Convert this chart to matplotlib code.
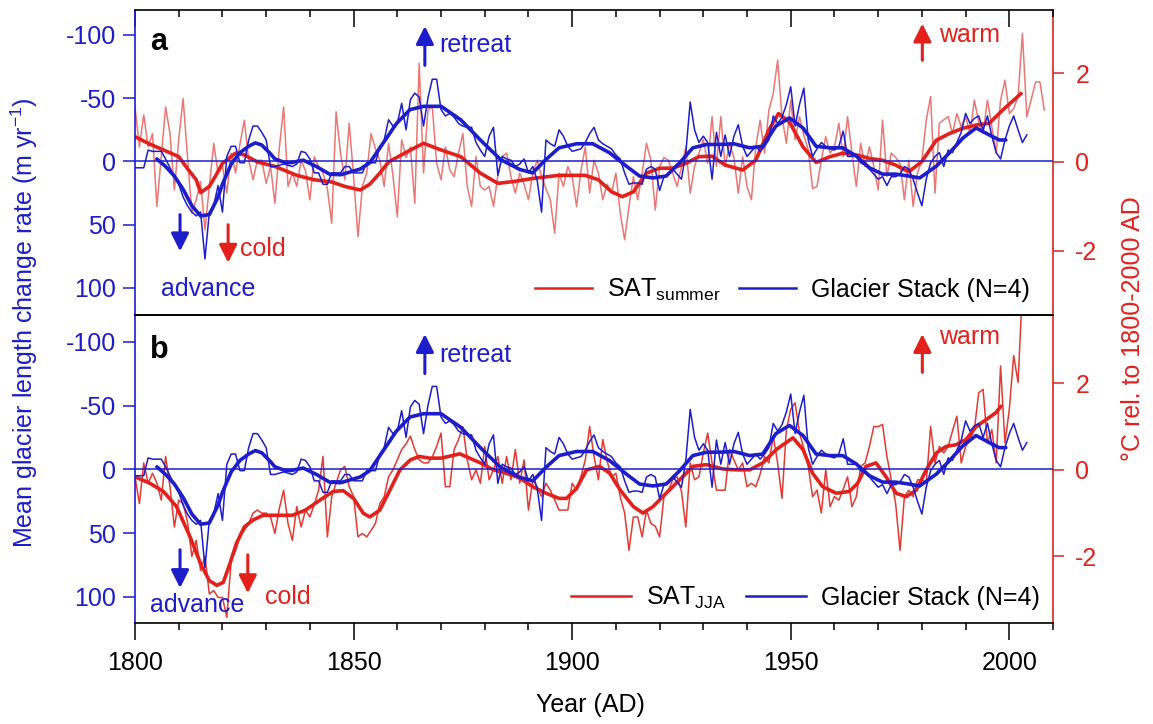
import matplotlib.pyplot as plt
import numpy as np
from matplotlib.lines import Line2D

plt.rcParams['font.family'] = ['Liberation Sans', 'DejaVu Sans']
plt.rcParams['mathtext.fontset'] = 'custom'
plt.rcParams['mathtext.rm'] = 'Liberation Sans'
plt.rcParams['mathtext.it'] = 'Liberation Sans:italic'

BLUE = '#1d1dcc'
RED = '#e2211c'

# glacier stack, annual length change rate (m/yr), 1800-2004
glacier_years = np.arange(1800, 2005)
glacier = [5, 5, 5, -9, -8, -8, -8, -2, 5, 12,
           18, 28, 35, 40, 43, 40, 77, 40, 35, 19,
           40, -4, -12, -12, 1, 1, -17, -28, -28, -23,
           -17, 4, 4, 3, 2, 3, 4, 2, -8, -7,
           -2, 9, 9, 18, 18, 9, 9, 9, 4, 4,
           9, 9, 9, 1, 1, 1, -12, -17, -33, -28,
           -30, -46, -25, -49, -54, -51, -28, -50, -65, -65,
           -41, -36, -38, -35, -30, -28, -27, -27, -15, -9,
           -4, -20, -27, 11, -4, -2, -1, 4, 2, -2,
           9, 4, 15, 40, -17, -14, -12, -25, -20, -12,
           -8, -9, -10, -15, -22, -27, -17, -14, -12, -10,
           -5, -2, 9, 18, 17, 17, 18, 6, 4, 6,
           23, 12, 10, 6, 10, 14, -7, -47, -25, -15,
           -20, -15, 14, -23, -4, -21, -4, -20, -29, -12,
           -4, -8, -12, -8, -12, -17, -36, -30, -35, -45,
           -59, -28, -45, -58, -17, -4, -10, -15, -12, -10,
           -9, -12, -24, -4, -4, -4, 1, 3, 6, 10,
           14, 12, 19, 12, 12, 10, 4, 6, 14, 25,
           35, 14, 1, -4, -7, 4, -9, -7, -15, -23,
           -38, -30, -34, -36, -25, -36, -20, -7, -2, -17,
           -28, -36, -25, -15, -21]

# smoothed glacier stack
glacier_smooth_years = [1805, 1807, 1809, 1811, 1813, 1815, 1817, 1819, 1820, 1822,
                        1824, 1826, 1827.5, 1829, 1831, 1832, 1834, 1835.5, 1838.5, 1841.5,
                        1844.5, 1847, 1848.5, 1851.5, 1853.7, 1856.8, 1859.8, 1862.9, 1866, 1870,
                        1874.5, 1879, 1883.6, 1888, 1891, 1894, 1897, 1901, 1904.7, 1908.5,
                        1912.4, 1915.4, 1918.5, 1921.5, 1924.6, 1927.6, 1930.7, 1934, 1937, 1940.6,
                        1943.6, 1946.6, 1949.7, 1952.8, 1955.8, 1958.9, 1961.9, 1965, 1968, 1971,
                        1974, 1977, 1979.5, 1983.3, 1986.3, 1989.4, 1992.4, 1995.4, 1997.7, 1999.2]
glacier_smooth = [-2, 4, 11.5, 22, 35, 43, 42, 28, 18, 2,
                  -7, -12, -14.7, -13, -6, -2, 0.5, 1, -1, 4,
                  10, 10.5, 9, 6, 1, -14.7, -30, -41, -43.6, -43.6,
                  -33, -17, -1.6, 6.3, 9, -1.6, -10.8, -14, -14, -7,
                  3.7, 11.5, 13, 11.5, 1, -10.8, -13.4, -13.5, -14, -10.8,
                  -12, -28, -34.4, -26.5, -12, -10.8, -10.8, -4.2, 5, 10,
                  10, 11.5, 13, 3.7, -6.8, -18.6, -26.5, -21, -17, -17]

# panel a: summer SAT anomaly (deg C), annual 1800-2008
sat_summer_years = np.arange(1800, 2009)
sat_summer = [1.24, 0.34, 1.06, 0.34, 0.64, -1.0, 0.12, 1.24, 0.64, -0.63,
              0.5, 1.43, 0.12, -1.15, -0.85, -0.44, -1.53, -0.55, 0.42, -0.25,
              -0.1, -0.7, 0.2, -0.25, 0.4, 0.94, 0.04, -0.4, 0.04, 0.04,
              -0.48, -0.1, -0.93, 0.3, 1.24, -0.55, -0.25, -0.55, 0.04, -0.2,
              -0.85, 0.12, -0.1, -0.25, -0.6, -1.38, 1.13, 0.2, -0.4, 0.87,
              -0.33, -1.68, -0.55, -0.25, 0.64, 0.3, 0.04, -0.55, 0.42, -0.3,
              -1.23, 0.5, 0.1, 0.34, -0.93, 2.22, -0.25, 1.17, 1.24, -0.03,
              -0.4, 0.34, -0.18, -0.33, 0.2, 0.64, -0.55, -1.0, 0.12, -0.55,
              -0.63, -0.55, -1.0, -0.3, 0.12, 0.2, -0.33, -0.7, -0.25, -0.5,
              -0.85, -0.25, 0.04, -0.33, -0.6, -0.85, -1.6, -0.25, -0.55, -0.1,
              -0.33, -1.0, -0.2, 0.34, -0.7, 0.04, -0.25, -0.85, -0.5, -0.7,
              -0.25, -1.15, -1.75, -1.0, -0.33, -0.85, -0.25, 0.42, 0.04, -1.08,
              -0.1, 0.1, 0.04, -0.25, -0.55, -0.1, 0.34, -0.7, -0.1, 0.2,
              0.5, -0.03, 1.02, -0.1, 1.02, -0.1, 0.42, 0.1, -0.7, 0.12,
              -0.55, -0.85, 0.34, 0.94, 0.2, 1.17, 1.54, 2.29, 1.02, 0.42,
              1.39, 0.5, 1.02, 0.6, 0.27, -0.6, -0.55, 0.04, 0.57, 0.2,
              0.34, 0.87, 0.12, 1.02, 0.2, -0.55, 0.42, -0.1, 0.34, -0.1,
              -0.63, 0.94, -0.33, 0.2, 0.1, -0.03, -0.85, 0.04, -1.0, -0.25,
              0.04, 0.94, 1.47, -0.7, 0.87, 0.95, 1.02, 0.64, 1.09, 0.79,
              1.02, 0.64, 1.39, 0.9, 0.64, 1.39, 0.79, 0.2, 1.39, 1.84,
              1.09, 1.2, 1.47, 2.89, 1.02, 1.4, 1.8, 1.8, 1.17]

sat_summer_smooth_years = [1800, 1803, 1806.5, 1810, 1812, 1814, 1815, 1817, 1818.5, 1820,
                           1823, 1825, 1828, 1832, 1837, 1841, 1845, 1848, 1851.5, 1853.7,
                           1856, 1858, 1863, 1866, 1870, 1874.5, 1879, 1883, 1886.6, 1891,
                           1897, 1903, 1906, 1909, 1911.5, 1914, 1917, 1920, 1923, 1926,
                           1929, 1932, 1935, 1939, 1942, 1945, 1947.2, 1949.7, 1952.8, 1955.8,
                           1959, 1962, 1965, 1968, 1971, 1974, 1977, 1980, 1983.3, 1986.3,
                           1989.4, 1992.4, 1995.4, 1998.5, 2002.7]
sat_summer_smooth = [0.57, 0.42, 0.27, 0.12, -0.15, -0.4, -0.69, -0.55, -0.3, -0.03,
                     0.2, 0.16, 0.0, -0.1, -0.3, -0.4, -0.45, -0.55, -0.63, -0.5,
                     -0.25, 0.0, 0.27, 0.42, 0.27, 0.12, -0.25, -0.48, -0.44, -0.37,
                     -0.3, -0.3, -0.4, -0.67, -0.78, -0.67, -0.25, -0.14, -0.14, -0.03,
                     0.12, 0.13, -0.07, -0.18, 0.04, 0.72, 1.09, 0.9, 0.34, -0.01,
                     0.12, 0.2, 0.16, 0.08, 0.04, -0.07, -0.22, 0.01, 0.49, 0.64,
                     0.76, 0.83, 0.87, 1.17, 1.54]

# panel b: JJA SAT anomaly (deg C), annual 1800-2003
sat_jja_years = np.arange(1800, 2004)
sat_jja = [-0.16, -0.78, 0.16, -0.31, -0.08, -0.3, -0.7, 0.31, -0.39, -1.32,
           -0.7, -0.78, -1.2, -2.0, -1.63, -2.33, -2.0, -2.87, -2.79, -2.95,
           -2.95, -3.41, -2.09, -1.86, -1.55, -1.4, -1.24, -1.0, -0.93, -1.0,
           -1.0, -1.09, -1.47, -0.9, -0.47, -1.24, -1.63, -0.85, -1.32, -0.93,
           -1.09, -0.8, -0.47, 0.31, -1.55, -0.62, -0.31, 0.0, 0.08, -0.39,
           -0.62, -1.55, -1.47, -1.55, -1.4, -1.24, -0.78, -0.62, -0.16, 0.0,
           0.23, 0.47, 0.6, 0.78, 0.47, 0.23, 0.16, 0.16, 0.3, 0.54,
           0.85, -0.39, -0.39, 0.47, 0.7, 1.0, 0.23, -0.23, 0.0, -0.31,
           0.54, -0.23, 0.0, 0.31, -0.31, 0.31, -0.23, 0.47, -0.31, 0.23,
           -0.93, -0.23, -0.4, -0.62, -0.31, -0.47, -0.7, -0.93, -0.93, -0.93,
           -0.31, -0.47, -0.16, 0.23, 1.0, 0.31, -0.23, 0.7, 0.2, -0.16,
           -0.08, -0.62, -1.0, -1.86, -1.09, -1.09, -1.55, -0.93, -1.24, -1.3,
           -1.55, -0.62, -0.47, -0.23, -0.16, -0.5, -1.32, 0.16, -0.23, -0.16,
           0.39, 0.85, 0.16, -0.47, -0.47, -0.47, 0.47, 0.23, 0.0, 0.16,
           -0.39, -0.31, -0.39, -0.1, 0.31, 0.16, 0.78, 0.16, -0.66, 0.93,
           1.4, 1.55, 0.85, 0.5, 0.08, -0.62, -0.47, -1.0, 0.0, -0.85,
           -0.62, -0.7, -0.45, -0.16, -0.85, -0.62, 0.08, 0.16, 0.54, 1.0,
           1.0, 1.05, 0.31, -0.23, -0.78, -1.86, -0.62, -0.47, -0.62, -0.23,
           -0.23, -0.31, 1.0, 0.16, 0.54, 0.39, 0.54, 0.9, 1.24, 0.16,
           0.54, 0.7, 0.93, 1.78, 1.86, 0.62, 0.93, 0.16, 2.4, 0.62,
           1.4, 2.64, 2.02, 4.2]

sat_jja_smooth_years = [1800, 1803.4, 1806.5, 1809.5, 1812.6, 1815, 1817, 1818.7, 1820.2, 1821.7,
                        1823.2, 1825, 1827, 1829.3, 1833, 1836, 1839, 1842.3, 1845.3, 1847.6,
                        1850, 1852.2, 1853.7, 1856, 1858.3, 1860.6, 1863, 1865, 1867.4, 1870,
                        1874.3, 1879, 1882, 1885, 1888, 1891, 1894, 1897, 1898.7, 1901,
                        1903.3, 1906.3, 1908.6, 1911, 1914, 1916.2, 1918.5, 1921.5, 1924.6, 1927.6,
                        1930.7, 1934.5, 1937.5, 1940.6, 1943.6, 1946.7, 1950.5, 1952.8, 1955, 1957.3,
                        1960.4, 1963.4, 1965.3, 1967.2, 1969.5, 1971.8, 1974.1, 1976.4, 1978.7, 1981,
                        1983.3, 1985.5, 1987.8, 1990.1, 1992.4, 1994.7, 1996.9, 1998.1]
sat_jja_smooth = [-0.16, -0.31, -0.5, -0.85, -1.55, -2.17, -2.56, -2.67, -2.6, -2.17,
                  -1.7, -1.32, -1.16, -1.05, -1.05, -1.05, -0.93, -0.7, -0.5, -0.48,
                  -0.66, -1.0, -1.09, -0.93, -0.47, 0.0, 0.23, 0.31, 0.27, 0.27,
                  0.37, 0.16, 0.0, -0.08, -0.19, -0.39, -0.54, -0.66, -0.66, -0.43,
                  0.0, 0.08, -0.08, -0.47, -0.85, -1.0, -0.85, -0.54, -0.23, 0.08,
                  0.12, 0.02, 0.0, 0.0, 0.16, 0.47, 0.74, 0.47, -0.08, -0.39,
                  -0.54, -0.5, -0.31, 0.08, 0.16, -0.16, -0.54, -0.62, -0.47, 0.0,
                  0.39, 0.54, 0.58, 0.7, 1.0, 1.16, 1.32, 1.47]


def draw_panel(ax, sat_x, sat_y, sat_sx, sat_sy, thin_color, t_lim, g_lim):
    tw = ax.twinx()
    ax.set_zorder(tw.get_zorder() + 1)
    ax.patch.set_visible(False)

    ax.axhline(0, color=BLUE, lw=1.1)
    ax.plot(glacier_years, glacier, color=BLUE, lw=1.1)
    ax.plot(glacier_smooth_years, glacier_smooth, color=BLUE, lw=2.6,
            solid_capstyle='round', solid_joinstyle='round')
    tw.plot(sat_x, sat_y, color=thin_color, lw=1.1)
    tw.plot(sat_sx, sat_sy, color=RED, lw=2.6,
            solid_capstyle='round', solid_joinstyle='round')

    ax.set_xlim(1800, 2010)
    ax.set_ylim(g_lim)
    ax.set_yticks([-100, -50, 0, 50, 100])
    ax.set_yticklabels(['-100', '-50', '0', '50', '100'])
    tw.set_ylim(t_lim)
    tw.set_yticks([-2, 0, 2])
    tw.set_yticklabels(['-2', '0', '2'])

    ax.tick_params(axis='y', colors=BLUE, labelsize=18, length=8.5, width=1.1,
                   direction='out', pad=5)
    tw.tick_params(axis='y', colors=RED, labelsize=18, length=8, width=1.1,
                   direction='out', pad=8)
    for s in ['top', 'bottom']:
        ax.spines[s].set_color('black')
        tw.spines[s].set_visible(False)
    ax.spines['left'].set_color(BLUE)
    ax.spines['right'].set_visible(False)
    tw.spines['right'].set_color(RED)
    tw.spines['left'].set_visible(False)
    for s in ax.spines.values():
        s.set_linewidth(1.2)
    tw.spines['right'].set_linewidth(1.2)

    handles = [Line2D([], [], color=RED, lw=1.8), Line2D([], [], color=BLUE, lw=1.8)]
    return tw, handles


fig = plt.figure(figsize=(11.53, 7.24), dpi=100)
ax_a = fig.add_axes([0.1171, 0.565, 0.7962, 0.4213])
ax_b = fig.add_axes([0.1171, 0.1395, 0.7962, 0.4255])

tw_a, h_a = draw_panel(ax_a, sat_summer_years, sat_summer, sat_summer_smooth_years, sat_summer_smooth,
                       '#ea7773', (-3.44, 3.42), (121.3, -119.8))
tw_b, h_b = draw_panel(ax_b, sat_jja_years, sat_jja, sat_jja_smooth_years, sat_jja_smooth,
                       '#e23a33', (-3.54, 3.58), (120.4, -121))

# x ticks: inward on top of panel a, outward at bottom of panel b
ax_a.xaxis.set_ticks_position('top')
ax_a.set_xticks(np.arange(1800, 2011, 50))
ax_a.set_xticks(np.arange(1800, 2011, 10), minor=True)
ax_a.tick_params(axis='x', which='major', direction='in', length=12, width=1.1, labeltop=False)
ax_a.tick_params(axis='x', which='minor', direction='in', length=5, width=1.1)
ax_b.xaxis.set_ticks_position('bottom')
ax_b.set_xticks(np.arange(1800, 2011, 50))
ax_b.set_xticks(np.arange(1800, 2011, 10), minor=True)
ax_b.tick_params(axis='x', which='major', direction='out', length=12, width=1.1, labelsize=18, pad=8)
ax_b.tick_params(axis='x', which='minor', direction='out', length=5, width=1.1)

# legends
ax_a.legend(h_a, ['SAT$_{\\mathrm{summer}}$', 'Glacier Stack (N=4)'], ncol=2, frameon=False,
            loc='center right', bbox_to_anchor=(0.975, 0.082), fontsize=18, borderpad=0,
            borderaxespad=0, handlelength=2.3, handletextpad=0.6, columnspacing=0.7)
ax_b.legend(h_b, ['SAT$_{\\mathrm{JJA}}$', 'Glacier Stack (N=4)'], ncol=2, frameon=False,
            loc='center right', bbox_to_anchor=(0.986, 0.081), fontsize=18, borderpad=0,
            borderaxespad=0, handlelength=2.4, handletextpad=0.6, columnspacing=0.8)

# panel letters
ax_a.text(0.016, 0.895, 'a', transform=ax_a.transAxes, fontsize=22, fontweight='bold', va='center')
ax_b.text(0.016, 0.886, 'b', transform=ax_b.transAxes, fontsize=22, fontweight='bold', va='center')

arrow_kw = dict(arrowstyle='-|>', lw=2.2, mutation_scale=27, shrinkA=0, shrinkB=0)

# panel a annotations
ax_a.annotate('', xy=(1810.3, 71), xytext=(1810.3, 42), arrowprops=dict(color=BLUE, **arrow_kw))
ax_a.text(1816.7, 101, 'advance', color=BLUE, fontsize=18, ha='center', va='center')
ax_a.annotate('', xy=(1821.3, 80), xytext=(1821.3, 50), arrowprops=dict(color=RED, **arrow_kw))
ax_a.text(1824, 69, 'cold', color=RED, fontsize=18, ha='left', va='center')
ax_a.annotate('', xy=(1866.3, -107), xytext=(1866.3, -76), arrowprops=dict(color=BLUE, **arrow_kw))
ax_a.text(1869.7, -92, 'retreat', color=BLUE, fontsize=18, ha='left', va='center')
ax_a.annotate('', xy=(1980.1, -109), xytext=(1980.1, -80), arrowprops=dict(color=RED, **arrow_kw))
ax_a.text(1984, -100, 'warm', color=RED, fontsize=18, ha='left', va='center')

# panel b annotations
ax_b.annotate('', xy=(1810.3, 93), xytext=(1810.3, 63), arrowprops=dict(color=BLUE, **arrow_kw))
ax_b.text(1814.2, 106, 'advance', color=BLUE, fontsize=18, ha='center', va='center')
ax_b.annotate('', xy=(1825.8, 97), xytext=(1825.8, 67), arrowprops=dict(color=RED, **arrow_kw))
ax_b.text(1829.7, 100, 'cold', color=RED, fontsize=18, ha='left', va='center')
ax_b.annotate('', xy=(1866.3, -106), xytext=(1866.3, -75), arrowprops=dict(color=BLUE, **arrow_kw))
ax_b.text(1869.7, -90, 'retreat', color=BLUE, fontsize=18, ha='left', va='center')
ax_b.annotate('', xy=(1980.1, -106), xytext=(1980.1, -76), arrowprops=dict(color=RED, **arrow_kw))
ax_b.text(1984, -104, 'warm', color=RED, fontsize=18, ha='left', va='center')

# axis titles
fig.text(0.021, 0.555, 'Mean glacier length change rate (m yr$^{-1}$)', rotation=90,
         color=BLUE, fontsize=18, ha='center', va='center')
fig.text(0.983, 0.546, '°C rel. to 1800-2000 AD', rotation=90,
         color=RED, fontsize=18, ha='center', va='center')
fig.text(0.512, 0.026, 'Year (AD)', fontsize=18, ha='center', va='center')

fig.savefig('out.png', dpi=100)
